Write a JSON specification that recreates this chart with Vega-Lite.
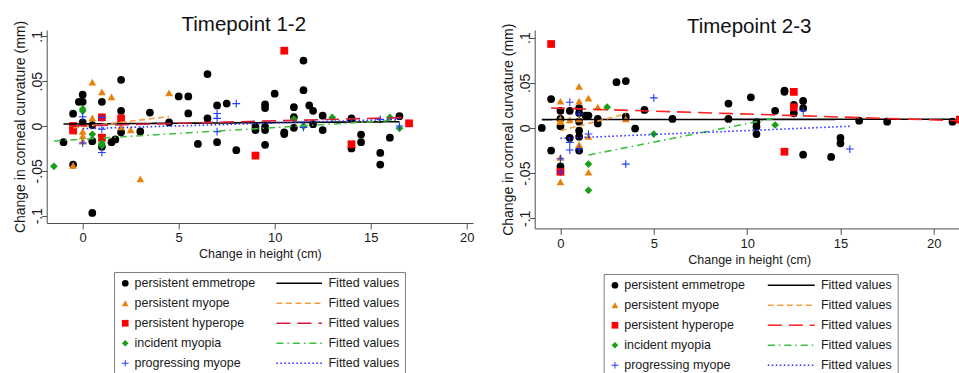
{
  "$schema": "https://vega.github.io/schema/vega-lite/v6.json",
  "background": "white",
  "padding": {"left": 13.7, "top": 14, "right": 0, "bottom": 0},
  "spacing": 27,
  "config": {
    "font": "Liberation Sans",
    "view": {"stroke": null},
    "axis": {"grid": false, "domainColor": "#4d4d4d", "tickColor": "#4d4d4d", "labelColor": "#1a1a1a", "titleColor": "#1a1a1a", "titleFontWeight": "normal"},
    "legend": {"labelColor": "#1a1a1a", "labelFont": "Liberation Sans"}
  },
  "datasets": {
    "pts": [
      {"panel":1,"group":"persistent emmetrope","height":-1.0,"curv":-0.018},
      {"panel":1,"group":"persistent emmetrope","height":-0.5,"curv":0.0137},
      {"panel":1,"group":"persistent emmetrope","height":-0.5,"curv":-0.043},
      {"panel":1,"group":"persistent emmetrope","height":-0.2,"curv":0.027},
      {"panel":1,"group":"persistent emmetrope","height":0,"curv":0.035},
      {"panel":1,"group":"persistent emmetrope","height":0,"curv":0.027},
      {"panel":1,"group":"persistent emmetrope","height":0,"curv":0.004},
      {"panel":1,"group":"persistent emmetrope","height":0.5,"curv":-0.017},
      {"panel":1,"group":"persistent emmetrope","height":0.5,"curv":-0.097},
      {"panel":1,"group":"persistent emmetrope","height":0.5,"curv":0.001},
      {"panel":1,"group":"persistent emmetrope","height":1.0,"curv":0.027},
      {"panel":1,"group":"persistent emmetrope","height":1.0,"curv":-0.023},
      {"panel":1,"group":"persistent emmetrope","height":1.5,"curv":-0.018},
      {"panel":1,"group":"persistent emmetrope","height":1.7,"curv":-0.015},
      {"panel":1,"group":"persistent emmetrope","height":2.0,"curv":0.0515},
      {"panel":1,"group":"persistent emmetrope","height":2.0,"curv":0.017},
      {"panel":1,"group":"persistent emmetrope","height":2.0,"curv":-0.007},
      {"panel":1,"group":"persistent emmetrope","height":3.0,"curv":-0.006},
      {"panel":1,"group":"persistent emmetrope","height":3.5,"curv":0.015},
      {"panel":1,"group":"persistent emmetrope","height":4.5,"curv":0.004},
      {"panel":1,"group":"persistent emmetrope","height":5.0,"curv":0.033},
      {"panel":1,"group":"persistent emmetrope","height":5.5,"curv":0.033},
      {"panel":1,"group":"persistent emmetrope","height":5.5,"curv":0.014},
      {"panel":1,"group":"persistent emmetrope","height":6.0,"curv":-0.02},
      {"panel":1,"group":"persistent emmetrope","height":6.5,"curv":0.058},
      {"panel":1,"group":"persistent emmetrope","height":6.5,"curv":0.0085},
      {"panel":1,"group":"persistent emmetrope","height":7.0,"curv":0.023},
      {"panel":1,"group":"persistent emmetrope","height":7.0,"curv":-0.018},
      {"panel":1,"group":"persistent emmetrope","height":7.5,"curv":0.025},
      {"panel":1,"group":"persistent emmetrope","height":8.0,"curv":-0.027},
      {"panel":1,"group":"persistent emmetrope","height":9.0,"curv":-0.001},
      {"panel":1,"group":"persistent emmetrope","height":9.0,"curv":-0.0045},
      {"panel":1,"group":"persistent emmetrope","height":9.5,"curv":0.024},
      {"panel":1,"group":"persistent emmetrope","height":9.5,"curv":0.02},
      {"panel":1,"group":"persistent emmetrope","height":9.5,"curv":-0.001},
      {"panel":1,"group":"persistent emmetrope","height":9.5,"curv":-0.0045},
      {"panel":1,"group":"persistent emmetrope","height":9.5,"curv":-0.021},
      {"panel":1,"group":"persistent emmetrope","height":10.0,"curv":0.036},
      {"panel":1,"group":"persistent emmetrope","height":10.5,"curv":-0.007},
      {"panel":1,"group":"persistent emmetrope","height":10.5,"curv":-0.009},
      {"panel":1,"group":"persistent emmetrope","height":11.0,"curv":0.021},
      {"panel":1,"group":"persistent emmetrope","height":11.0,"curv":0.01},
      {"panel":1,"group":"persistent emmetrope","height":11.0,"curv":-0.002},
      {"panel":1,"group":"persistent emmetrope","height":11.5,"curv":0.073},
      {"panel":1,"group":"persistent emmetrope","height":11.5,"curv":0.04},
      {"panel":1,"group":"persistent emmetrope","height":11.8,"curv":0.023},
      {"panel":1,"group":"persistent emmetrope","height":12.0,"curv":0.017},
      {"panel":1,"group":"persistent emmetrope","height":12.0,"curv":0.002},
      {"panel":1,"group":"persistent emmetrope","height":12.5,"curv":0.0115},
      {"panel":1,"group":"persistent emmetrope","height":12.5,"curv":-0.0045},
      {"panel":1,"group":"persistent emmetrope","height":14.0,"curv":0.0085},
      {"panel":1,"group":"persistent emmetrope","height":14.0,"curv":-0.025},
      {"panel":1,"group":"persistent emmetrope","height":14.5,"curv":-0.0096},
      {"panel":1,"group":"persistent emmetrope","height":14.5,"curv":-0.018},
      {"panel":1,"group":"persistent emmetrope","height":15.5,"curv":-0.03},
      {"panel":1,"group":"persistent emmetrope","height":15.5,"curv":-0.043},
      {"panel":1,"group":"persistent emmetrope","height":16.0,"curv":-0.013},
      {"panel":1,"group":"persistent emmetrope","height":16.5,"curv":0.011},
      {"panel":1,"group":"persistent myope","height":0.5,"curv":0.049},
      {"panel":1,"group":"persistent myope","height":1.0,"curv":0.038},
      {"panel":1,"group":"persistent myope","height":1.5,"curv":0.0326},
      {"panel":1,"group":"persistent myope","height":4.5,"curv":0.037},
      {"panel":1,"group":"persistent myope","height":3.0,"curv":-0.059},
      {"panel":1,"group":"persistent myope","height":-0.5,"curv":-0.044},
      {"panel":1,"group":"persistent myope","height":0.5,"curv":0.009},
      {"panel":1,"group":"persistent myope","height":0,"curv":-0.006},
      {"panel":1,"group":"persistent myope","height":0,"curv":-0.011},
      {"panel":1,"group":"persistent myope","height":0,"curv":-0.017},
      {"panel":1,"group":"persistent myope","height":2.5,"curv":-0.0044},
      {"panel":1,"group":"persistent myope","height":2.0,"curv":-0.001},
      {"panel":1,"group":"persistent hyperope","height":-0.5,"curv":0.0},
      {"panel":1,"group":"persistent hyperope","height":-0.5,"curv":-0.005},
      {"panel":1,"group":"persistent hyperope","height":1.0,"curv":0.0096},
      {"panel":1,"group":"persistent hyperope","height":1.0,"curv":-0.013},
      {"panel":1,"group":"persistent hyperope","height":2.0,"curv":0.0085},
      {"panel":1,"group":"persistent hyperope","height":9.0,"curv":-0.033},
      {"panel":1,"group":"persistent hyperope","height":10.5,"curv":0.084},
      {"panel":1,"group":"persistent hyperope","height":14.0,"curv":-0.0204},
      {"panel":1,"group":"persistent hyperope","height":17.0,"curv":0.003},
      {"panel":1,"group":"incident myopia","height":-1.5,"curv":-0.045},
      {"panel":1,"group":"incident myopia","height":0,"curv":0.0167},
      {"panel":1,"group":"incident myopia","height":0,"curv":0.019},
      {"panel":1,"group":"incident myopia","height":0.5,"curv":-0.0093},
      {"panel":1,"group":"incident myopia","height":1.0,"curv":-0.022},
      {"panel":1,"group":"incident myopia","height":1.0,"curv":-0.019},
      {"panel":1,"group":"incident myopia","height":11.0,"curv":0.0078},
      {"panel":1,"group":"incident myopia","height":11.5,"curv":0.0},
      {"panel":1,"group":"incident myopia","height":13.0,"curv":0.0096},
      {"panel":1,"group":"incident myopia","height":16.0,"curv":0.0096},
      {"panel":1,"group":"incident myopia","height":16.5,"curv":-0.0026},
      {"panel":1,"group":"progressing myope","height":0,"curv":0.0104},
      {"panel":1,"group":"progressing myope","height":0,"curv":-0.019},
      {"panel":1,"group":"progressing myope","height":1.0,"curv":0.0096},
      {"panel":1,"group":"progressing myope","height":1.0,"curv":-0.0037},
      {"panel":1,"group":"progressing myope","height":1.0,"curv":-0.0296},
      {"panel":1,"group":"progressing myope","height":7.0,"curv":0.014},
      {"panel":1,"group":"progressing myope","height":7.0,"curv":0.0085},
      {"panel":1,"group":"progressing myope","height":7.0,"curv":-0.0063},
      {"panel":1,"group":"progressing myope","height":8.0,"curv":0.025},
      {"panel":1,"group":"progressing myope","height":11.5,"curv":-0.0015},
      {"panel":1,"group":"progressing myope","height":15.5,"curv":0.0074},
      {"panel":1,"group":"progressing myope","height":16.5,"curv":0.0},
      {"panel":2,"group":"persistent emmetrope","height":-1.0,"curv":0.0},
      {"panel":2,"group":"persistent emmetrope","height":-0.5,"curv":0.032},
      {"panel":2,"group":"persistent emmetrope","height":-0.5,"curv":-0.025},
      {"panel":2,"group":"persistent emmetrope","height":0,"curv":0.019},
      {"panel":2,"group":"persistent emmetrope","height":0,"curv":0.01},
      {"panel":2,"group":"persistent emmetrope","height":0,"curv":0.002},
      {"panel":2,"group":"persistent emmetrope","height":0,"curv":-0.0426},
      {"panel":2,"group":"persistent emmetrope","height":0.5,"curv":0.019},
      {"panel":2,"group":"persistent emmetrope","height":0.5,"curv":-0.011},
      {"panel":2,"group":"persistent emmetrope","height":1.0,"curv":0.022},
      {"panel":2,"group":"persistent emmetrope","height":1.0,"curv":0.0167},
      {"panel":2,"group":"persistent emmetrope","height":1.0,"curv":0.007},
      {"panel":2,"group":"persistent emmetrope","height":1.0,"curv":-0.003},
      {"panel":2,"group":"persistent emmetrope","height":1.0,"curv":-0.0096},
      {"panel":2,"group":"persistent emmetrope","height":1.0,"curv":-0.025},
      {"panel":2,"group":"persistent emmetrope","height":1.35,"curv":0.0137},
      {"panel":2,"group":"persistent emmetrope","height":1.5,"curv":0.0137},
      {"panel":2,"group":"persistent emmetrope","height":2.0,"curv":0.01},
      {"panel":2,"group":"persistent emmetrope","height":2.0,"curv":0.005},
      {"panel":2,"group":"persistent emmetrope","height":3.0,"curv":0.0507},
      {"panel":2,"group":"persistent emmetrope","height":3.5,"curv":0.052},
      {"panel":2,"group":"persistent emmetrope","height":3.5,"curv":0.0126},
      {"panel":2,"group":"persistent emmetrope","height":4.0,"curv":-0.0007},
      {"panel":2,"group":"persistent emmetrope","height":4.5,"curv":0.02},
      {"panel":2,"group":"persistent emmetrope","height":6.0,"curv":0.01},
      {"panel":2,"group":"persistent emmetrope","height":9.0,"curv":0.027},
      {"panel":2,"group":"persistent emmetrope","height":9.0,"curv":0.01},
      {"panel":2,"group":"persistent emmetrope","height":10.2,"curv":0.034},
      {"panel":2,"group":"persistent emmetrope","height":10.5,"curv":0.0063},
      {"panel":2,"group":"persistent emmetrope","height":10.5,"curv":0.0015},
      {"panel":2,"group":"persistent emmetrope","height":10.5,"curv":-0.0067},
      {"panel":2,"group":"persistent emmetrope","height":11.5,"curv":0.019},
      {"panel":2,"group":"persistent emmetrope","height":12.0,"curv":0.0415},
      {"panel":2,"group":"persistent emmetrope","height":12.0,"curv":0.04},
      {"panel":2,"group":"persistent emmetrope","height":12.5,"curv":0.0255},
      {"panel":2,"group":"persistent emmetrope","height":12.5,"curv":0.0163},
      {"panel":2,"group":"persistent emmetrope","height":13.0,"curv":0.03},
      {"panel":2,"group":"persistent emmetrope","height":13.0,"curv":0.022},
      {"panel":2,"group":"persistent emmetrope","height":13.0,"curv":-0.0296},
      {"panel":2,"group":"persistent emmetrope","height":14.5,"curv":-0.032},
      {"panel":2,"group":"persistent emmetrope","height":15.0,"curv":-0.011},
      {"panel":2,"group":"persistent emmetrope","height":15.0,"curv":-0.017},
      {"panel":2,"group":"persistent emmetrope","height":16.0,"curv":0.0081},
      {"panel":2,"group":"persistent emmetrope","height":17.5,"curv":0.007},
      {"panel":2,"group":"persistent emmetrope","height":21.0,"curv":0.007},
      {"panel":2,"group":"persistent myope","height":0,"curv":0.0296},
      {"panel":2,"group":"persistent myope","height":0,"curv":0.01},
      {"panel":2,"group":"persistent myope","height":0,"curv":0.007},
      {"panel":2,"group":"persistent myope","height":0,"curv":-0.0326},
      {"panel":2,"group":"persistent myope","height":0,"curv":-0.0596},
      {"panel":2,"group":"persistent myope","height":0.5,"curv":0.0089},
      {"panel":2,"group":"persistent myope","height":1.0,"curv":0.046},
      {"panel":2,"group":"persistent myope","height":1.0,"curv":0.0296},
      {"panel":2,"group":"persistent myope","height":1.0,"curv":0.01},
      {"panel":2,"group":"persistent myope","height":1.0,"curv":-0.0185},
      {"panel":2,"group":"persistent myope","height":1.5,"curv":0.033},
      {"panel":2,"group":"persistent myope","height":1.5,"curv":-0.0093},
      {"panel":2,"group":"persistent myope","height":1.5,"curv":-0.049},
      {"panel":2,"group":"persistent myope","height":2.0,"curv":0.023},
      {"panel":2,"group":"persistent myope","height":3.5,"curv":0.01},
      {"panel":2,"group":"persistent hyperope","height":-0.5,"curv":0.093},
      {"panel":2,"group":"persistent hyperope","height":0,"curv":-0.0485},
      {"panel":2,"group":"persistent hyperope","height":12.0,"curv":-0.0263},
      {"panel":2,"group":"persistent hyperope","height":12.5,"curv":0.04},
      {"panel":2,"group":"persistent hyperope","height":12.5,"curv":0.023},
      {"panel":2,"group":"persistent hyperope","height":21.4,"curv":0.0093},
      {"panel":2,"group":"incident myopia","height":2.5,"curv":0.023},
      {"panel":2,"group":"incident myopia","height":1.5,"curv":-0.04},
      {"panel":2,"group":"incident myopia","height":1.5,"curv":-0.069},
      {"panel":2,"group":"incident myopia","height":5.0,"curv":-0.0067},
      {"panel":2,"group":"incident myopia","height":11.5,"curv":0.0033},
      {"panel":2,"group":"progressing myope","height":0,"curv":-0.034},
      {"panel":2,"group":"progressing myope","height":0,"curv":-0.0485},
      {"panel":2,"group":"progressing myope","height":0.5,"curv":0.0285},
      {"panel":2,"group":"progressing myope","height":0.5,"curv":-0.016},
      {"panel":2,"group":"progressing myope","height":0.5,"curv":-0.0244},
      {"panel":2,"group":"progressing myope","height":1.0,"curv":0.0155},
      {"panel":2,"group":"progressing myope","height":1.0,"curv":-0.0233},
      {"panel":2,"group":"progressing myope","height":1.5,"curv":-0.0067},
      {"panel":2,"group":"progressing myope","height":3.5,"curv":-0.04},
      {"panel":2,"group":"progressing myope","height":5.0,"curv":0.0333},
      {"panel":2,"group":"progressing myope","height":13.0,"curv":0.019},
      {"panel":2,"group":"progressing myope","height":15.5,"curv":-0.0233}
    ],
    "fits": [
      {"panel":1,"fit":"fit: persistent emmetrope","height":-1.0,"curv":0.0022},
      {"panel":1,"fit":"fit: persistent emmetrope","height":16.5,"curv":0.0048},
      {"panel":1,"fit":"fit: persistent myope","height":-0.5,"curv":-0.002},
      {"panel":1,"fit":"fit: persistent myope","height":4.5,"curv":0.0105},
      {"panel":1,"fit":"fit: persistent hyperope","height":-0.5,"curv":0.0},
      {"panel":1,"fit":"fit: persistent hyperope","height":17.0,"curv":0.0096},
      {"panel":1,"fit":"fit: incident myopia","height":-1.5,"curv":-0.0167},
      {"panel":1,"fit":"fit: incident myopia","height":16.5,"curv":0.0067},
      {"panel":1,"fit":"fit: progressing myope","height":0,"curv":-0.003},
      {"panel":1,"fit":"fit: progressing myope","height":16.5,"curv":0.0075},
      {"panel":2,"fit":"fit: persistent emmetrope","height":-1.0,"curv":0.0093},
      {"panel":2,"fit":"fit: persistent emmetrope","height":21.0,"curv":0.0097},
      {"panel":2,"fit":"fit: persistent myope","height":0,"curv":-0.003},
      {"panel":2,"fit":"fit: persistent myope","height":3.5,"curv":0.0156},
      {"panel":2,"fit":"fit: persistent hyperope","height":-0.5,"curv":0.0222},
      {"panel":2,"fit":"fit: persistent hyperope","height":21.4,"curv":0.008},
      {"panel":2,"fit":"fit: incident myopia","height":1.5,"curv":-0.03},
      {"panel":2,"fit":"fit: incident myopia","height":11.5,"curv":0.011},
      {"panel":2,"fit":"fit: progressing myope","height":0,"curv":-0.0115},
      {"panel":2,"fit":"fit: progressing myope","height":15.5,"curv":0.0019}
    ]
  },
  "resolve": {
    "scale": {"x": "independent", "y": "independent", "color": "independent", "shape": "independent", "stroke": "independent", "strokeDash": "independent"},
    "legend": {"color": "independent", "shape": "independent", "stroke": "independent", "strokeDash": "independent"}
  },
  "hconcat": [
    {
      "width": 426.3,
      "height": 193,
      "title": {"text": "Timepoint 1-2", "fontSize": 20.5, "fontWeight": "normal", "font": "Liberation Sans", "color": "#111", "anchor": "middle", "frame": "bounds", "baseline": "alphabetic", "offset": -31},
      "layer": [
        {
          "data": {"name": "pts"},
          "transform": [{"filter": "datum.panel == 1"}],
          "mark": {"type": "point", "filled": true, "size": 60, "opacity": 1},
          "encoding": {
            "x": {"field": "height", "type": "quantitative", "scale": {"domain": [-1.875, 20.33], "nice": false, "zero": false},
                  "axis": {"values": [0, 5, 10, 15, 20], "title": "Change in height (cm)", "tickSize": 6, "labelFontSize": 13, "titleFontSize": 12.5, "labelPadding": 3, "titlePadding": 3, "labelFlush": false}},
            "y": {"field": "curv", "type": "quantitative", "scale": {"domain": [-0.1082, 0.1071], "nice": false, "zero": false},
                  "axis": {"values": [-0.1, -0.05, 0, 0.05, 0.1], "title": "Change in corneal curvature (mm)", "tickSize": 5, "labelAngle": -90, "labelAlign": "center", "labelBaseline": "alphabetic", "labelPadding": 0, "labelFontSize": 14, "titleFontSize": 14, "titlePadding": 3, "labelFlush": false,
                           "labelExpr": "replace(replace(format(datum.value, '.2~f'), '0.', '.'), '\u2212', '-')"}},
            "color": {"field": "group", "type": "nominal",
                      "scale": {"domain": ["persistent emmetrope", "persistent myope", "persistent hyperope", "incident myopia", "progressing myope"], "range": ["#000000", "#E8820C", "#FF0000", "#1A9E1A", "#1F3BFF"]},
                      "legend": {"orient": "none", "legendX": 67.3, "legendY": 242, "title": null, "padding": 5, "labelFontSize": 12.5, "labelLimit": 0, "symbolSize": 45, "rowPadding": 7, "labelOffset": 3}},
            "shape": {"field": "group", "type": "nominal",
                      "scale": {"domain": ["persistent emmetrope", "persistent myope", "persistent hyperope", "incident myopia", "progressing myope"], "range": ["circle", "triangle-up", "square", "diamond", "M-1,-0.14H-0.14V-1H0.14V-0.14H1V0.14H0.14V1H-0.14V0.14H-1Z"]},
                      "legend": {"orient": "none", "legendX": 67.3, "legendY": 242, "title": null, "padding": 5, "labelFontSize": 12.5, "labelLimit": 0, "symbolSize": 45, "rowPadding": 7, "labelOffset": 3}}
          }
        },
        {
          "data": {"name": "fits"},
          "transform": [{"filter": "datum.panel == 1"}],
          "mark": {"type": "line", "strokeWidth": 1.6},
          "encoding": {
            "x": {"field": "height", "type": "quantitative"},
            "y": {"field": "curv", "type": "quantitative"},
            "stroke": {"field": "fit", "type": "nominal",
                       "scale": {"domain": ["fit: persistent emmetrope", "fit: persistent myope", "fit: persistent hyperope", "fit: incident myopia", "fit: progressing myope"], "range": ["#000000", "#F0A040", "#D81B3C", "#3CBF3C", "#2B2BFF"]},
                       "legend": {"orient": "none", "legendX": 67.3, "legendY": 242, "title": null, "padding": 5, "strokeColor": "#7f7f7f", "symbolType": "M-1,0H12.6", "symbolSize": 45, "symbolOffset": 154.5, "labelExpr": "'Fitted values'", "labelFontSize": 12.5, "labelOffset": 42.5, "rowPadding": 7}},
            "strokeDash": {"field": "fit", "type": "nominal",
                           "scale": {"domain": ["fit: persistent emmetrope", "fit: persistent myope", "fit: persistent hyperope", "fit: incident myopia", "fit: progressing myope"], "range": [[1, 0], [6, 3.5], [14, 7], [7, 4, 1.5, 4], [1.5, 2.5]]},
                           "legend": {"orient": "none", "legendX": 67.3, "legendY": 242, "title": null, "padding": 5, "strokeColor": "#7f7f7f", "symbolType": "M-1,0H12.6", "symbolSize": 45, "symbolOffset": 154.5, "labelExpr": "'Fitted values'", "labelFontSize": 12.5, "labelOffset": 42.5, "rowPadding": 7}}
          }
        }
      ]
    },
    {
      "width": 429,
      "height": 198.4,
      "title": {"text": "Timepoint 2-3", "fontSize": 20.5, "fontWeight": "normal", "font": "Liberation Sans", "color": "#111", "anchor": "middle", "frame": "group", "baseline": "alphabetic", "offset": -31},
      "layer": [
        {
          "data": {"name": "pts"},
          "transform": [{"filter": "datum.panel == 2"}],
          "mark": {"type": "point", "filled": true, "size": 60, "opacity": 1},
          "encoding": {
            "x": {"field": "height", "type": "quantitative", "scale": {"domain": [-1.38, 21.6], "nice": false, "zero": false},
                  "axis": {"values": [0, 5, 10, 15, 20], "title": "Change in height (cm)", "tickSize": 6, "labelFontSize": 13, "titleFontSize": 12.5, "labelPadding": 3, "titlePadding": 3, "labelFlush": false}},
            "y": {"field": "curv", "type": "quantitative", "scale": {"domain": [-0.1112, 0.1085], "nice": false, "zero": false},
                  "axis": {"values": [-0.1, -0.05, 0, 0.05, 0.1], "title": "Change in corneal curvature (mm)", "tickSize": 5, "labelAngle": -90, "labelAlign": "center", "labelBaseline": "alphabetic", "labelPadding": 0, "labelFontSize": 14, "titleFontSize": 14, "titlePadding": 3, "labelFlush": false,
                           "labelExpr": "replace(replace(format(datum.value, '.2~f'), '0.', '.'), '\u2212', '-')"}},
            "color": {"field": "group", "type": "nominal",
                      "scale": {"domain": ["persistent emmetrope", "persistent myope", "persistent hyperope", "incident myopia", "progressing myope"], "range": ["#000000", "#E8820C", "#FF0000", "#1A9E1A", "#1F3BFF"]},
                      "legend": {"orient": "none", "legendX": 69, "legendY": 244, "title": null, "padding": 5, "labelFontSize": 12.5, "labelLimit": 0, "symbolSize": 45, "rowPadding": 7, "labelOffset": 3}},
            "shape": {"field": "group", "type": "nominal",
                      "scale": {"domain": ["persistent emmetrope", "persistent myope", "persistent hyperope", "incident myopia", "progressing myope"], "range": ["circle", "triangle-up", "square", "diamond", "M-1,-0.14H-0.14V-1H0.14V-0.14H1V0.14H0.14V1H-0.14V0.14H-1Z"]},
                      "legend": {"orient": "none", "legendX": 69, "legendY": 244, "title": null, "padding": 5, "labelFontSize": 12.5, "labelLimit": 0, "symbolSize": 45, "rowPadding": 7, "labelOffset": 3}}
          }
        },
        {
          "data": {"name": "fits"},
          "transform": [{"filter": "datum.panel == 2"}],
          "mark": {"type": "line", "strokeWidth": 1.6},
          "encoding": {
            "x": {"field": "height", "type": "quantitative"},
            "y": {"field": "curv", "type": "quantitative"},
            "stroke": {"field": "fit", "type": "nominal",
                       "scale": {"domain": ["fit: persistent emmetrope", "fit: persistent myope", "fit: persistent hyperope", "fit: incident myopia", "fit: progressing myope"], "range": ["#000000", "#F0A040", "#FF2020", "#3CBF3C", "#2B2BFF"]},
                       "legend": {"orient": "none", "legendX": 69, "legendY": 244, "title": null, "padding": 5, "strokeColor": "#7f7f7f", "symbolType": "M-1,0H13.0", "symbolSize": 45, "symbolOffset": 156.2, "labelExpr": "'Fitted values'", "labelFontSize": 12.5, "labelOffset": 43.5, "rowPadding": 7}},
            "strokeDash": {"field": "fit", "type": "nominal",
                           "scale": {"domain": ["fit: persistent emmetrope", "fit: persistent myope", "fit: persistent hyperope", "fit: incident myopia", "fit: progressing myope"], "range": [[1, 0], [6, 3.5], [14, 7], [7, 4, 1.5, 4], [1.5, 2.5]]},
                           "legend": {"orient": "none", "legendX": 69, "legendY": 244, "title": null, "padding": 5, "strokeColor": "#7f7f7f", "symbolType": "M-1,0H13.0", "symbolSize": 45, "symbolOffset": 156.2, "labelExpr": "'Fitted values'", "labelFontSize": 12.5, "labelOffset": 43.5, "rowPadding": 7}}
          }
        }
      ]
    }
  ]
}
